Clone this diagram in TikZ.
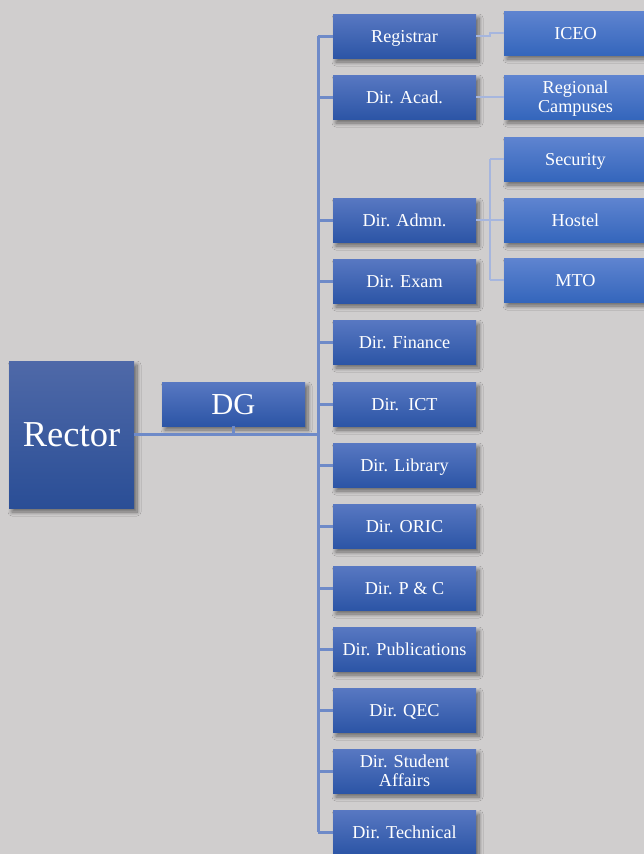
\documentclass[tikz,border=0pt]{standalone}
\usepackage{fontspec}
\setmainfont{Liberation Serif}
\usetikzlibrary{shadows.blur}
\definecolor{bg}{HTML}{D0CECE}
\definecolor{maintop}{HTML}{5878C2}
\definecolor{mainbot}{HTML}{2C55A6}
\definecolor{rtop}{HTML}{4F69A8}
\definecolor{rbot}{HTML}{2A4E96}
\definecolor{subtop}{HTML}{5F84D0}
\definecolor{subbot}{HTML}{3466BC}
\definecolor{mainline}{HTML}{6E8AC8}
\definecolor{subline}{HTML}{A6B6DE}
\tikzset{
  boxshadow/.style={blur shadow={shadow xshift=3pt, shadow yshift=-4pt, shadow blur steps=8, shadow opacity=50, shadow blur radius=4pt}},
  basebox/.style={boxshadow, minimum width=143pt, minimum height=44pt, inner sep=0pt, text=white, font=\fontsize{18.2}{18.5}\selectfont, text height=13.2pt, text depth=0.4pt},
  twoline/.style={text height=15pt, text depth=21.5pt},
  dirbox/.style={basebox, top color=maintop, bottom color=mainbot},
  subbox/.style={basebox, top color=subtop, bottom color=subbot},
  mainln/.style={draw=mainline, line width=3pt},
  subln/.style={draw=subline, line width=2.2pt},
}
\newcommand{\twol}[2]{\begin{tabular}[t]{@{}c@{}}#1\\#2\end{tabular}}
\begin{document}
\begin{tikzpicture}[x=1pt,y=-1pt]
\useasboundingbox (0,0) rectangle (644,854);
\fill[bg] (0,0) rectangle (644,854);
\clip (0,0) rectangle (644,854);
\coordinate (bus) at (318,0);
\coordinate (sbus) at (490,0);
% nodes
\node[boxshadow, top color=rtop, bottom color=rbot, minimum width=125pt, minimum height=147pt, inner sep=0pt, text=white, font=\fontsize{36.5}{40}\selectfont, text height=23pt, text depth=0pt] (rector) at (71.5,434.5) {Rector};
\node[dirbox, font=\fontsize{30.5}{34}\selectfont, text height=20pt, text depth=0pt] (dg) at (233.5,404) {DG};
\node[dirbox] (reg) at (404.5,36) {Registrar};
\node[dirbox] (acad) at (404.5,97) {Dir. Acad.};
\node[dirbox] (admn) at (404.5,220) {Dir. Admn.};
\node[dirbox] (exam) at (404.5,281) {Dir. Exam};
\node[dirbox] (fin) at (404.5,342) {Dir. Finance};
\node[dirbox] (ict) at (404.5,404) {Dir.\ \ ICT};
\node[dirbox] (lib) at (404.5,465) {Dir. Library};
\node[dirbox] (oric) at (404.5,526) {Dir. ORIC};
\node[dirbox] (pc) at (404.5,588) {Dir. P \& C};
\node[dirbox] (pub) at (404.5,649) {Dir. Publications};
\node[dirbox] (qec) at (404.5,710) {Dir. QEC};
\node[dirbox, twoline] (stu) at (404.5,771) {\twol{Dir. Student}{Affairs}};
\node[dirbox] (tech) at (404.5,832) {Dir. Technical};
\node[subbox] (iceo) at (575.5,33) {ICEO};
\node[subbox, twoline] (reg2) at (575.5,97) {\twol{Regional}{Campuses}};
\node[subbox] (sec) at (575.5,159) {Security};
\node[subbox] (host) at (575.5,220) {Hostel};
\node[subbox] (mto) at (575.5,280) {MTO};
% connectors
\draw[mainln] (rector.east) -- (rector.east -| bus);
\draw[mainln] (dg.south) -- (dg.south |- rector.east);
\draw[mainln] (reg.west -| bus) -- (tech.west -| bus);
\foreach \n in {reg,acad,admn,exam,fin,ict,lib,oric,pc,pub,qec,stu,tech}
  \draw[mainln] (\n.west -| bus) -- (\n.west);
\draw[subln] (reg.east) -- (reg.east -| sbus) -- (iceo.west -| sbus) -- (iceo.west);
\draw[subln] (acad.east) -- (reg2.west);
\draw[subln] (admn.east) -- (host.west);
\draw[subln] (sec.west -| sbus) -- (mto.west -| sbus);
\draw[subln] (sec.west -| sbus) -- (sec.west);
\draw[subln] (mto.west -| sbus) -- (mto.west);
\end{tikzpicture}
\end{document}
